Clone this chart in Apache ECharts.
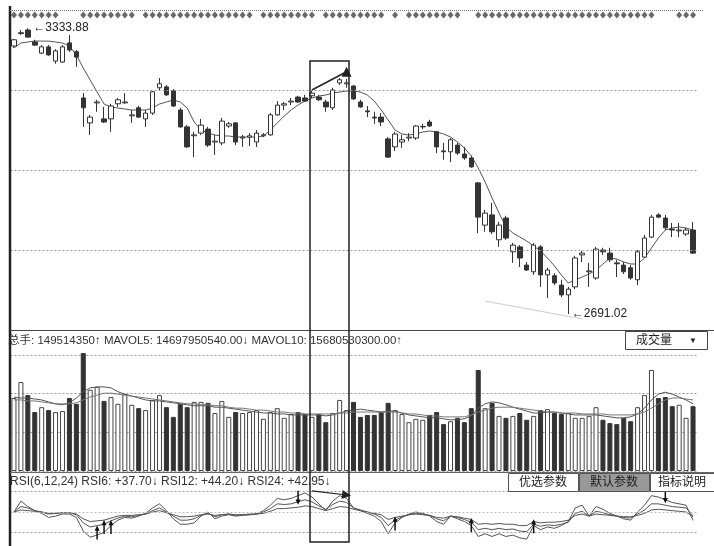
<!DOCTYPE html>
<html><head><meta charset="utf-8">
<script src="https://cdn.jsdelivr.net/npm/echarts@6/dist/echarts.min.js"></script>
<style>html,body{margin:0;padding:0;background:#fff}#c{width:714px;height:546px}</style>
</head><body><div id="c"></div>
<script>
// [open, close, low, high]
const ohlc = [
[3294,3308,3290,3310],[3322,3324,3319,3330],[3330,3314,3313,3333.88],[3303,3296,3294,3308],[3278,3292,3276,3296],
[3292,3274,3272,3296],[3260,3283,3254,3287],[3258,3292,3256,3296],[3301,3285,3281,3319],[3281,3269,3247,3285],
[3177,3155,3112,3188],[3121,3134,3094,3139],[3166,3168,3146,3173],[3130,3123,3121,3157],[3130,3159,3101,3164],
[3164,3173,3157,3177],[3166,3168,3164,3188],[3137,3139,3121,3150],[3155,3134,3132,3159],[3130,3143,3112,3150],
[3143,3191,3139,3193],[3200,3209,3195,3222],[3202,3184,3182,3206],[3193,3159,3157,3197],[3150,3112,3110,3155],
[3112,3067,3065,3116],[3092,3094,3044,3101],[3098,3116,3094,3130],[3107,3071,3067,3112],[3078,3080,3049,3094],
[3076,3125,3071,3132],[3114,3119,3110,3123],[3121,3078,3071,3123],[3087,3089,3067,3094],[3089,3092,3069,3098],
[3078,3098,3067,3105],[3092,3094,3089,3098],[3094,3139,3092,3143],[3139,3161,3137,3170],[3161,3164,3150,3168],
[3168,3170,3161,3177],[3179,3168,3166,3182],[3177,3170,3168,3184],[3182,3188,3177,3193],[3179,3173,3170,3184],
[3168,3157,3146,3173],[3155,3195,3150,3200],[3211,3218,3206,3222],[3209,3211,3200,3220],[3204,3175,3173,3206],
[3168,3157,3155,3173],[3148,3146,3134,3159],[3134,3132,3119,3146],[3134,3123,3114,3143],[3085,3044,3042,3089],
[3067,3096,3058,3101],[3078,3083,3065,3094],[3087,3089,3080,3098],[3087,3114,3083,3116],[3112,3113,3107,3119],
[3123,3114,3112,3128],[3101,3067,3053,3103],[3058,3056,3038,3076],[3056,3083,3033,3087],[3071,3053,3049,3076],
[3051,3042,3038,3067],[3042,3022,3020,3047],[2986,2909,2873,2988],[2891,2918,2876,2925],[2914,2876,2871,2941],
[2858,2891,2842,2898],[2907,2862,2858,2912],[2831,2846,2806,2851],[2842,2817,2797,2846],[2801,2790,2788,2808],
[2786,2846,2779,2851],[2842,2779,2752,2846],[2779,2790,2727,2795],[2777,2761,2756,2783],[2756,2734,2729,2768],
[2734,2747,2691.02,2752],[2752,2817,2747,2822],[2824,2828,2808,2833],[2786,2788,2752,2806],[2772,2837,2768,2842],
[2835,2831,2824,2840],[2828,2813,2808,2840],[2806,2804,2774,2813],[2801,2786,2781,2808],[2795,2772,2768,2801],
[2768,2831,2756,2835],[2819,2862,2817,2869],[2864,2909,2862,2914],[2914,2909,2907,2918],[2907,2885,2880,2914],
[2882,2880,2864,2896],[2878,2880,2864,2896],[2871,2880,2867,2885],[2880,2828,2826,2898]
];
const priceMA = [
3289.5,3300.75,3303,3305.25,3305,3305,3303,3300.75,3294,3273.75,
3244.5,3217.5,3190.5,3163.5,3156.75,3154.5,3152.25,3150,3150,3150,
3154.5,3163.5,3168,3172.5,3168,3154.5,3123,3105,3098.25,3093.75,
3091.5,3091.5,3089.25,3089.25,3089.25,3089.25,3091.5,3105,3120.75,3136.5,
3150,3161.25,3170.25,3177,3181.5,3183.75,3188.25,3190.5,3192.75,3192.75,
3190.5,3183.75,3170.25,3150,3127.5,3105,3096,3093.75,3096,3100.5,
3102.75,3100.5,3096,3089.25,3078,3064.5,3046.5,3019.5,2988,2952,
2918.25,2886.75,2873.25,2864.25,2855.25,2844,2832.75,2817,2799,2778.75,
2760.75,2767.5,2774.25,2781,2790,2803.5,2817,2814.75,2808,2803.5,
2803.5,2817,2839.5,2862,2880,2884.5,2886.75,2884.5,2880
];
// signal flags shown as diamonds along the top edge
const flags = [
1,1,1,1,1,1,1,0,0,0, 1,1,1,1,1,1,1,1,0,1, 1,1,1,1,1,1,1,1,1,1,
1,1,1,1,1,0,1,1,1,1, 1,1,1,1,0,1,1,1,1,1, 1,1,1,1,0,1,0,1,1,1,
1,1,1,1,1,0,0,1,1,1, 1,1,1,1,1,1,1,1,1,1, 1,1,1,1,1,1,1,1,1,1,
1,1,1,0,0,0,1,1,1
];
// volume (x1e8)
const volume = [
151,184,157,122,132,126,122,124,151,139,
244,168,174,145,153,139,159,137,130,126,
147,157,132,112,139,132,143,143,141,120,
145,112,122,120,122,126,108,122,130,110,
118,122,118,112,118,101,120,147,126,143,
112,116,116,122,141,126,118,101,108,106,
116,122,97,103,110,101,130,209,130,141,
114,110,114,120,106,114,126,128,120,118,
120,110,110,114,132,106,99,97,110,103,
132,157,209,151,153,134,137,110,134
];
const mavol5 = [
153,151,151,149,147,143,139,137,141,151,
164,172,174,174,172,164,159,155,151,147,
145,145,143,141,139,137,135,135,135,132,
132,130,128,126,124,122,120,120,118,118,
116,116,116,116,116,114,116,120,124,126,
128,126,124,122,124,124,120,116,114,112,
110,110,108,106,106,108,114,130,139,143,
141,137,132,128,124,120,120,122,122,120,
118,116,116,116,116,114,112,110,110,112,
118,130,147,159,163,159,153,147,139
];
const mavol10 = [
147,147,145,145,143,141,139,139,139,141,
147,153,157,161,161,159,157,155,153,151,
149,147,145,143,141,139,139,137,137,135,
135,132,130,130,128,126,126,124,122,122,
120,120,118,118,118,118,118,120,120,122,
122,122,122,122,122,122,120,118,118,116,
114,114,112,112,112,112,116,122,126,130,
132,132,132,130,128,126,124,122,122,120,
120,120,118,118,118,118,116,116,116,116,
118,122,130,139,147,151,151,149,147
];
const rsi6 = [
50,66,58,52,48,42,44,47,47,42,
22,13,16,20,30,38,42,41,44,48,
56,62,52,40,32,32,34,44,50,40,
44,46,44,45,46,47,52,60,70,68,
70,74,78,72,62,52,66,74,70,56,
52,48,44,36,18,34,42,47,50,48,
44,36,32,44,40,36,30,14,18,14,
18,14,16,12,10,30,24,28,26,30,
36,56,60,44,58,54,48,44,40,38,
50,60,74,72,68,64,62,60,37.7
];
const rsi12 = [
50,58,56,52,50,47,48,49,49,46,
34,28,30,32,37,41,44,43,45,47,
52,56,50,44,38,38,40,45,48,43,
46,47,45,46,46,47,50,55,62,61,
62,65,68,65,59,54,61,66,64,56,
53,50,47,42,30,38,43,46,48,47,
45,40,37,44,42,39,35,24,26,24,
26,24,25,22,21,32,29,31,30,32,
35,48,51,44,51,49,46,44,42,41,
47,53,62,62,60,58,57,56,44.2
];
const rsi24 = [
50,53,52,51,50,48,48,49,49,47,
40,36,37,38,41,44,45,45,46,47,
50,52,49,46,43,43,44,46,47,45,
46,47,46,46,47,47,48,51,55,55,
56,57,59,58,55,52,55,58,57,54,
52,50,48,46,39,42,44,46,47,46,
45,42,41,44,43,41,39,32,33,32,
33,32,32,30,30,36,34,35,35,36,
38,45,47,44,47,46,45,44,43,43,
45,48,53,54,53,52,51,50,42.95
];
const upArrowsAt = [[12,20],[13,28],[14,28],[55,33],[66,31],[75,29]];
const downArrowsAt = [[41,71],[94,73]];
const categories = ohlc.map((d, i) => 'K' + (i + 1));

const DARK = '#333';
const FONT = "'Liberation Sans','Noto Sans CJK SC',sans-serif";
const chart = echarts.init(document.getElementById('c'));
const gl = 10.5, gw = 686;
const dotted = {color: '#999', type: [2, 2], width: 1};

const upArrowPath = 'path://M5,0 L10,6 L6.5,6 L6.5,16 L3.5,16 L3.5,6 L0,6 Z';
const downArrowPath = 'path://M5,16 L10,10 L6.5,10 L6.5,0 L3.5,0 L3.5,10 L0,10 Z';

const option = {
  animation: false,
  backgroundColor: '#fff',
  textStyle: {fontFamily: FONT},
  grid: [
    {left: gl, width: gw, top: 10, height: 320},
    {left: gl, width: gw, top: 355, height: 116},
    {left: gl, width: gw, top: 478, height: 75}
  ],
  xAxis: [0, 1, 2].map(g => ({
    type: 'category', gridIndex: g, data: categories, boundaryGap: true,
    axisLine: {show: false}, axisTick: {show: false}, axisLabel: {show: false}, splitLine: {show: false}
  })),
  yAxis: [
    {gridIndex: 0, min: 2655, max: 3375, axisLine: {show: false}, axisTick: {show: false}, axisLabel: {show: false}, splitLine: {show: false}},
    {gridIndex: 1, min: 0, max: 240, interval: 80, axisLine: {show: false}, axisTick: {show: false}, axisLabel: {show: false}, splitLine: {show: true, lineStyle: dotted}},
    {gridIndex: 2, min: 0, max: 100, axisLine: {show: false}, axisTick: {show: false}, axisLabel: {show: false}, splitLine: {show: false}}
  ],
  series: [
    {
      type: 'candlestick', xAxisIndex: 0, yAxisIndex: 0, data: ohlc, barWidth: 5,
      itemStyle: {color: '#fff', color0: DARK, borderColor: DARK, borderColor0: DARK, borderWidth: 1},
      markPoint: {
        symbol: 'circle', symbolSize: 1, itemStyle: {color: 'transparent'},
        label: {show: true, position: 'right', color: '#222', fontSize: 12, fontFamily: FONT},
        data: [
          {coord: [2, 3333.88], label: {formatter: '\u2190' + '3333.88', offset: [0, -1]}},
          {coord: [80, 2691.02], label: {formatter: '\u2190' + '2691.02', offset: [-2, 0]}}
        ]
      }
    },
    {
      type: 'line', xAxisIndex: 0, yAxisIndex: 0, data: priceMA, symbol: 'none',
      lineStyle: {color: '#555', width: 1}, z: 1,
      markLine: {
        silent: true, symbol: 'none', label: {show: false}, lineStyle: dotted,
        data: [{yAxis: 3195}, {yAxis: 3015}, {yAxis: 2835},
          [{coord: [43, 3195], symbol: 'none', lineStyle: {color: '#222', width: 1.5, type: 'solid'}},
           {coord: [48, 3236], symbol: 'triangle', symbolSize: 10, symbolRotate: 0}],
          [{coord: [68, 2720], lineStyle: {color: '#ccc', width: 1, type: 'solid'}}, {coord: [82, 2680]}]
        ]
      }
    },
    {
      type: 'scatter', xAxisIndex: 0, yAxisIndex: 0, symbol: 'diamond', symbolSize: [6, 7],
      itemStyle: {color: '#444'},
      data: flags.map((f, i) => f ? [i, 3364] : [i, null])
    },
    {
      type: 'bar', xAxisIndex: 1, yAxisIndex: 1, barWidth: 5, clip: false,
      data: volume.map((v, i) => ({
        value: v,
        itemStyle: ohlc[i][1] >= ohlc[i][0]
          ? {color: '#fff', borderColor: '#444', borderWidth: 1}
          : {color: DARK, borderColor: DARK, borderWidth: 1}
      }))
    },
    {type: 'line', xAxisIndex: 1, yAxisIndex: 1, data: mavol5, symbol: 'none', lineStyle: {color: '#555', width: 1}},
    {type: 'line', xAxisIndex: 1, yAxisIndex: 1, data: mavol10, symbol: 'none', lineStyle: {color: '#777', width: 1}},
    {
      type: 'line', xAxisIndex: 2, yAxisIndex: 2, data: rsi6, symbol: 'none', lineStyle: {color: '#555', width: 1},
      markLine: {
        silent: true, symbol: 'none', label: {show: false}, lineStyle: dotted,
        data: [{yAxis: 80}, {yAxis: 50, lineStyle: {color: '#bbb'}}, {yAxis: 20},
          [{coord: [43, 81], lineStyle: {color: '#222', width: 1.2, type: 'solid'}},
           {coord: [48, 75], symbol: 'triangle', symbolSize: 9}]
        ]
      },
      markPoint: {
        symbolKeepAspect: true, itemStyle: {color: '#111'}, label: {show: false},
        data: upArrowsAt.map(p => ({coord: p, symbol: upArrowPath, symbolSize: [8, 14]}))
          .concat(downArrowsAt.map(p => ({coord: p, symbol: downArrowPath, symbolSize: [8, 14]})))
      }
    },
    {type: 'line', xAxisIndex: 2, yAxisIndex: 2, data: rsi12, symbol: 'none', lineStyle: {color: '#555', width: 1}},
    {type: 'line', xAxisIndex: 2, yAxisIndex: 2, data: rsi24, symbol: 'none', lineStyle: {color: '#555', width: 1}}
  ],
  graphic: [
    {type: 'line', shape: {x1: 10, y1: 6, x2: 10, y2: 546}, style: {stroke: '#222', lineWidth: 2.5}, z: 100},
    {type: 'line', shape: {x1: 10, y1: 10.5, x2: 704, y2: 10.5}, style: {stroke: '#777', lineWidth: 1, lineDash: [1, 1]}, z: 100},
    {type: 'line', shape: {x1: 10, y1: 330.5, x2: 714, y2: 330.5}, style: {stroke: '#444', lineWidth: 1}, z: 100},
    {type: 'text', left: 8, top: 335, z: 100, style: {text: '总手: 149514350\u2191 MAVOL5: 14697950540.00\u2193 MAVOL10: 15680530300.00\u2191', fill: '#333', font: '11.5px ' + FONT}},
    {type: 'rect', shape: {x: 625.5, y: 331.5, width: 82, height: 18}, style: {fill: '#fff', stroke: '#444', lineWidth: 1}, z: 100},
    {type: 'text', x: 654, y: 341, z: 101, style: {text: '成交量', fill: '#222', font: '12px ' + FONT, textAlign: 'center', textVerticalAlign: 'middle'}},
    {type: 'text', x: 693, y: 341, z: 101, style: {text: '\u25BC', fill: '#222', font: '8px ' + FONT, textAlign: 'center', textVerticalAlign: 'middle'}},
    {type: 'line', shape: {x1: 10, y1: 472.5, x2: 714, y2: 472.5}, style: {stroke: '#666', lineWidth: 1}, z: 100},
    {type: 'text', left: 10, top: 476, z: 100, style: {text: 'RSI(6,12,24) RSI6: +37.70\u2193 RSI12: +44.20\u2193 RSI24: +42.95\u2193', fill: '#333', font: '12px ' + FONT}},
    {type: 'rect', shape: {x: 508.5, y: 473.5, width: 70, height: 18}, style: {fill: '#fff', stroke: '#555', lineWidth: 1}, z: 100},
    {type: 'text', x: 543, y: 483, z: 101, style: {text: '优选参数', fill: '#222', font: '12px ' + FONT, textAlign: 'center', textVerticalAlign: 'middle'}},
    {type: 'rect', shape: {x: 579.5, y: 473.5, width: 70, height: 18}, style: {fill: '#999', stroke: '#555', lineWidth: 1}, z: 100},
    {type: 'text', x: 614, y: 483, z: 101, style: {text: '默认参数', fill: '#222', font: '12px ' + FONT, textAlign: 'center', textVerticalAlign: 'middle'}},
    {type: 'rect', shape: {x: 650.5, y: 473.5, width: 66, height: 18}, style: {fill: '#fff', stroke: '#555', lineWidth: 1}, z: 100},
    {type: 'text', x: 682, y: 483, z: 101, style: {text: '指标说明', fill: '#222', font: '12px ' + FONT, textAlign: 'center', textVerticalAlign: 'middle'}},
    {type: 'rect', shape: {x: 310, y: 61, width: 39, height: 481}, style: {fill: 'none', stroke: '#222', lineWidth: 1.5}, z: 100}
  ]
};
chart.setOption(option);
</script>
</body></html>
